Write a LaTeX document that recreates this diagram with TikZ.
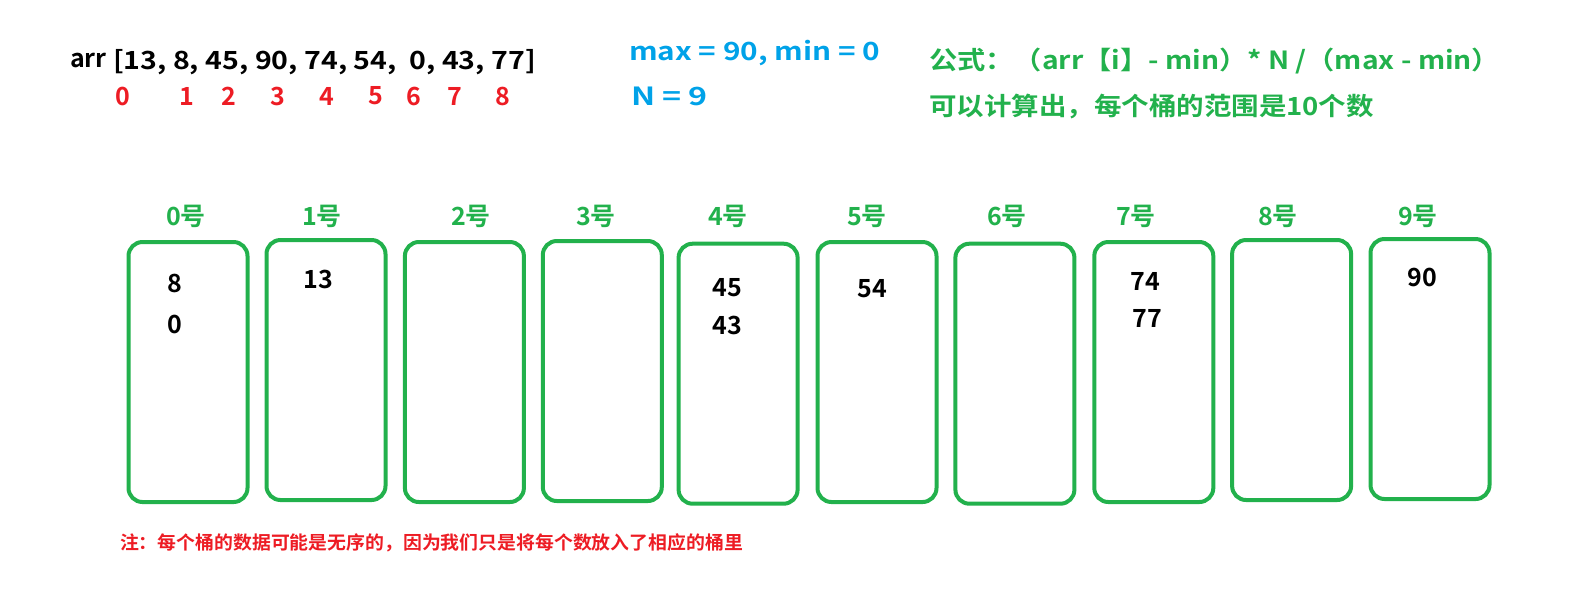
\documentclass[tikz,border=0pt]{standalone}
\usepackage{graphicx}
\usepackage{fontspec}
\setmainfont{Noto Sans CJK SC}[BoldFont={Noto Sans CJK SC Bold}]
\definecolor{grn}{HTML}{22B14C}
\definecolor{blu}{HTML}{00A2E8}
\definecolor{rd}{HTML}{ED1C24}
\begin{document}
\begin{tikzpicture}[x=0.5pt,y=-0.5pt,
  every node/.style={inner sep=0pt, outer sep=0pt},
  big/.style={font=\bfseries\fontsize{12.5}{15}\selectfont},
  bucket/.style={draw=grn, line width=2pt, rounded corners=7pt, minimum width=59.5pt, minimum height=130pt},
  blabel/.style={big, text=grn},
  val/.style={big, text=black},
  idx/.style={big, text=rd}]
\useasboundingbox (0,0) rectangle (1590,602);
% top-left array
\node[big, anchor=west] (arr) at (70,60) {arr};
\node[big, anchor=west] (vals) at (113,62) {\scalebox{1.14}[1]{[13, 8, 45, 90, 74, 54,\ \ 0, 43, 77]}};
\foreach \x/\t [count=\i from 0] in {123/0,187/1,229/2,278/3,327/4,376/5,414/6,455/7,503/8}
  \node[idx] (i\i) at (\x,96) {\t};
% blue
\node[big, text=blu, anchor=west] (mm) at (629,53) {\scalebox{1.19}[1]{max = 90, min = 0}};
\node[big, text=blu, anchor=west] (nn) at (631,96) {\scalebox{1.29}[1]{N = 9}};
% green formula
\node[big, text=grn, anchor=west] (f1) at (929,61) {\scalebox{1.13}[1]{公式：（arr【i】- min）* N /（max - min）}};
\node[big, text=grn, anchor=west] (f2) at (929,106) {\scalebox{1.10}[1]{可以计算出，每个桶的范围是10个数}};
% buckets
\foreach \x/\y [count=\i from 0] in {188/372,326/370,464.4/372,602.3/371,738.1/373.7,877/372,1014.9/373.7,1153.8/372,1291.6/370,1430/369}
  \node[bucket] (b\i) at (\x,\y) {};
\foreach \x [count=\i from 0] in {186,322,471,596,728,867,1007,1136,1278,1418}
  \node[blabel] (l\i) at (\x,216) {\i 号};
% values
\node[val] (v8) at (175,283) {8};
\node[val] (v0) at (175,324) {0};
\node[val] (v13) at (318,279) {13};
\node[val] (v45) at (727,288) {45};
\node[val] (v43) at (727,325) {43};
\node[val] (v54) at (872,289) {54};
\node[val] (v74) at (1145,281) {74};
\node[val] (v77) at (1147,318) {77};
\node[val] (v90) at (1422,277) {90};
% note
\node[text=rd, anchor=west, font=\bfseries\fontsize{9.2}{11}\selectfont] (note) at (120,543) {\scalebox{1.026}[1]{注：每个桶的数据可能是无序的，因为我们只是将每个数放入了相应的桶里}};
\end{tikzpicture}
\end{document}
